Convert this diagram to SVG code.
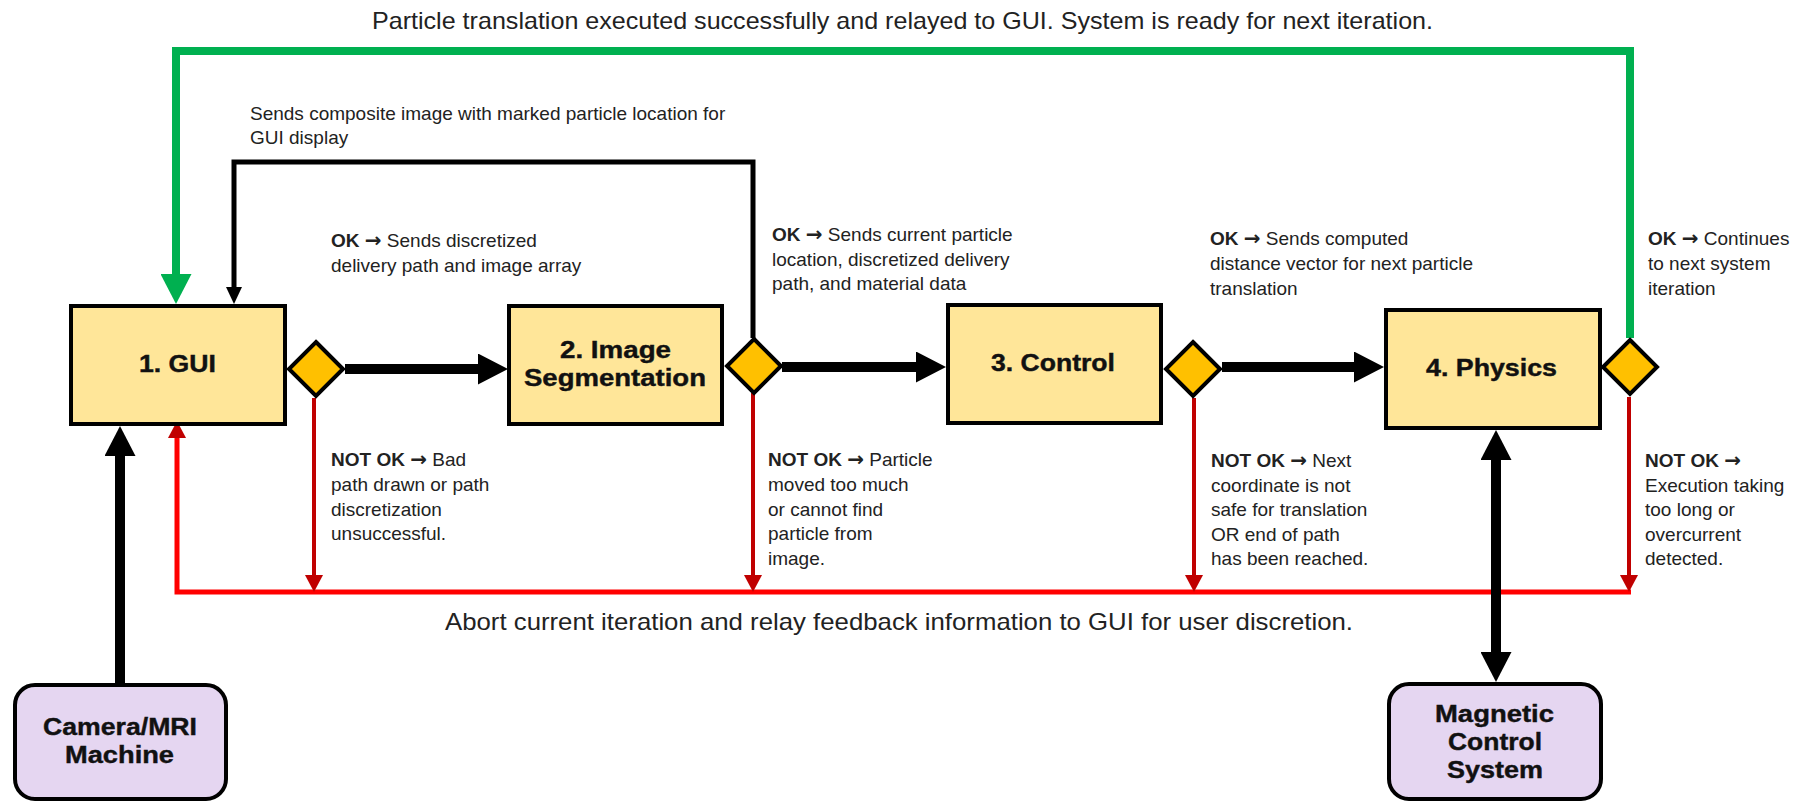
<svg xmlns="http://www.w3.org/2000/svg" width="1799" height="802" viewBox="0 0 1799 802">
<style>
.box{fill:#FFE699;stroke:#000;stroke-width:4}
.ext{fill:#E5D6F1;stroke:#000;stroke-width:4}
.dia{fill:#FFC000;stroke:#000;stroke-width:4;stroke-linejoin:miter}
.nt{font-family:"Liberation Sans",Arial,sans-serif;font-weight:bold;font-size:23px;fill:#111;stroke:#111;stroke-width:0.4;text-anchor:middle}
.lb{font-family:"Liberation Sans",Arial,sans-serif;font-size:19px;fill:#222}
.lb .b{font-weight:bold}
.lb .ar{font-family:"DejaVu Sans",sans-serif;font-weight:bold;font-size:20px}
.big{font-family:"Liberation Sans",Arial,sans-serif;font-size:24px;fill:#222}
.thick{fill:none;stroke:#000;stroke-width:10}
.thin{fill:none;stroke:#000;stroke-width:5}
.green{fill:none;stroke:#00B050;stroke-width:8}
.redh{fill:none;stroke:#FF0000;stroke-width:5}
.redv{fill:none;stroke:#C00000;stroke-width:4}
</style>
<defs>
<marker id="hBig" markerUnits="userSpaceOnUse" markerWidth="30" markerHeight="31" refX="0" refY="15.5" orient="auto-start-reverse"><path d="M0,0 L30,15.5 L0,31 z" fill="#000"/></marker>
<marker id="hSmall" markerUnits="userSpaceOnUse" markerWidth="17" markerHeight="16" refX="0" refY="8" orient="auto"><path d="M0,0 L17,8 L0,16 z" fill="#000"/></marker>
<marker id="hGreen" markerUnits="userSpaceOnUse" markerWidth="30" markerHeight="31" refX="0" refY="15.5" orient="auto"><path d="M0,0 L30,15.5 L0,31 z" fill="#00B050"/></marker>
<marker id="hRed" markerUnits="userSpaceOnUse" markerWidth="17" markerHeight="18" refX="0" refY="9" orient="auto"><path d="M0,0 L17,9 L0,18 z" fill="#C00000"/></marker>
</defs>
<rect width="1799" height="802" fill="#fff"/>

<g id="connectors">
  <path class="redh" d="M1631,592 H177 V438" marker-end="url(#hRed)"/>
  <path class="redv" d="M314,398 V575" marker-end="url(#hRed)"/>
  <path class="redv" d="M753,393 V575" marker-end="url(#hRed)"/>
  <path class="redv" d="M1194,398 V575" marker-end="url(#hRed)"/>
  <path class="redv" d="M1629,397 V575" marker-end="url(#hRed)"/>
  <path class="green" d="M1630,338 V51 H176 V274" marker-end="url(#hGreen)"/>
  <path class="thin" d="M753,338 V162 H234 V287" marker-end="url(#hSmall)"/>
  <path class="thick" d="M345,369 H478" marker-end="url(#hBig)"/>
  <path class="thick" d="M782,367 H916" marker-end="url(#hBig)"/>
  <path class="thick" d="M1222,367 H1354" marker-end="url(#hBig)"/>
  <path class="thick" d="M120,683 V456" marker-end="url(#hBig)"/>
  <path class="thick" d="M1496,460 V652" marker-start="url(#hBig)" marker-end="url(#hBig)"/>
</g>

<g id="gui">
  <rect class="box" x="71" y="306" width="214" height="118"/>
  <text class="nt" x="177.5" y="372" textLength="77" lengthAdjust="spacingAndGlyphs">1. GUI</text>
</g>
<g id="imgseg">
  <rect class="box" x="509" y="306" width="213" height="118"/>
  <text class="nt" x="615.5" y="358" textLength="111" lengthAdjust="spacingAndGlyphs">2. Image</text>
  <text class="nt" x="615" y="386" textLength="182" lengthAdjust="spacingAndGlyphs">Segmentation</text>
</g>
<g id="control">
  <rect class="box" x="948" y="305" width="213" height="118"/>
  <text class="nt" x="1053" y="371" textLength="124" lengthAdjust="spacingAndGlyphs">3. Control</text>
</g>
<g id="physics">
  <rect class="box" x="1386" y="310" width="214" height="118"/>
  <text class="nt" x="1491.5" y="376" textLength="131" lengthAdjust="spacingAndGlyphs">4. Physics</text>
</g>
<g id="camera">
  <rect class="ext" x="15" y="685" width="211" height="114" rx="20"/>
  <text class="nt" x="120" y="735" textLength="154" lengthAdjust="spacingAndGlyphs">Camera/MRI</text>
  <text class="nt" x="119.5" y="763" textLength="109" lengthAdjust="spacingAndGlyphs">Machine</text>
</g>
<g id="magnetic">
  <rect class="ext" x="1389" y="684" width="212" height="115" rx="20"/>
  <text class="nt" x="1494.5" y="722" textLength="119" lengthAdjust="spacingAndGlyphs">Magnetic</text>
  <text class="nt" x="1495" y="750" textLength="94" lengthAdjust="spacingAndGlyphs">Control</text>
  <text class="nt" x="1495" y="778" textLength="96" lengthAdjust="spacingAndGlyphs">System</text>
</g>
<g id="decision1"><polygon class="dia" points="316,342 343,369 316,396 289,369"/></g>
<g id="decision2"><polygon class="dia" points="754,339 781,366 754,393 727,366"/></g>
<g id="decision3"><polygon class="dia" points="1193,342 1220,369 1193,396 1166,369"/></g>
<g id="decision4"><polygon class="dia" points="1630,340 1657,367 1630,394 1603,367"/></g>

<g id="labels">
  <text class="big" x="372" y="29" textLength="1061" lengthAdjust="spacingAndGlyphs">Particle translation executed successfully and relayed to GUI. System is ready for next iteration.</text>
  <text class="big" x="445" y="630" textLength="908" lengthAdjust="spacingAndGlyphs">Abort current iteration and relay feedback information to GUI for user discretion.</text>

  <text class="lb" x="250" y="120">Sends composite image with marked particle location for</text>
  <text class="lb" x="250" y="144">GUI display</text>

  <text class="lb" x="331" y="247"><tspan class="b">OK</tspan> <tspan class="ar">→</tspan> Sends discretized</text>
  <text class="lb" x="331" y="272">delivery path and image array</text>

  <text class="lb" x="772" y="241"><tspan class="b">OK</tspan> <tspan class="ar">→</tspan> Sends current particle</text>
  <text class="lb" x="772" y="265.5">location, discretized delivery</text>
  <text class="lb" x="772" y="290">path, and material data</text>

  <text class="lb" x="1210" y="245"><tspan class="b">OK</tspan> <tspan class="ar">→</tspan> Sends computed</text>
  <text class="lb" x="1210" y="270">distance vector for next particle</text>
  <text class="lb" x="1210" y="295">translation</text>

  <text class="lb" x="1648" y="245"><tspan class="b">OK</tspan> <tspan class="ar">→</tspan> Continues</text>
  <text class="lb" x="1648" y="270">to next system</text>
  <text class="lb" x="1648" y="295">iteration</text>

  <text class="lb" x="331" y="466"><tspan class="b">NOT OK</tspan> <tspan class="ar">→</tspan> Bad</text>
  <text class="lb" x="331" y="491">path drawn or path</text>
  <text class="lb" x="331" y="515.5">discretization</text>
  <text class="lb" x="331" y="540">unsuccessful.</text>

  <text class="lb" x="768" y="466"><tspan class="b">NOT OK</tspan> <tspan class="ar">→</tspan> Particle</text>
  <text class="lb" x="768" y="491">moved too much</text>
  <text class="lb" x="768" y="515.5">or cannot find</text>
  <text class="lb" x="768" y="540">particle from</text>
  <text class="lb" x="768" y="565">image.</text>

  <text class="lb" x="1211" y="467"><tspan class="b">NOT OK</tspan> <tspan class="ar">→</tspan> Next</text>
  <text class="lb" x="1211" y="492">coordinate is not</text>
  <text class="lb" x="1211" y="516">safe for translation</text>
  <text class="lb" x="1211" y="541">OR end of path</text>
  <text class="lb" x="1211" y="565">has been reached.</text>

  <text class="lb" x="1645" y="467"><tspan class="b">NOT OK</tspan> <tspan class="ar">→</tspan></text>
  <text class="lb" x="1645" y="492">Execution taking</text>
  <text class="lb" x="1645" y="516">too long or</text>
  <text class="lb" x="1645" y="541">overcurrent</text>
  <text class="lb" x="1645" y="565">detected.</text>
</g>
</svg>
